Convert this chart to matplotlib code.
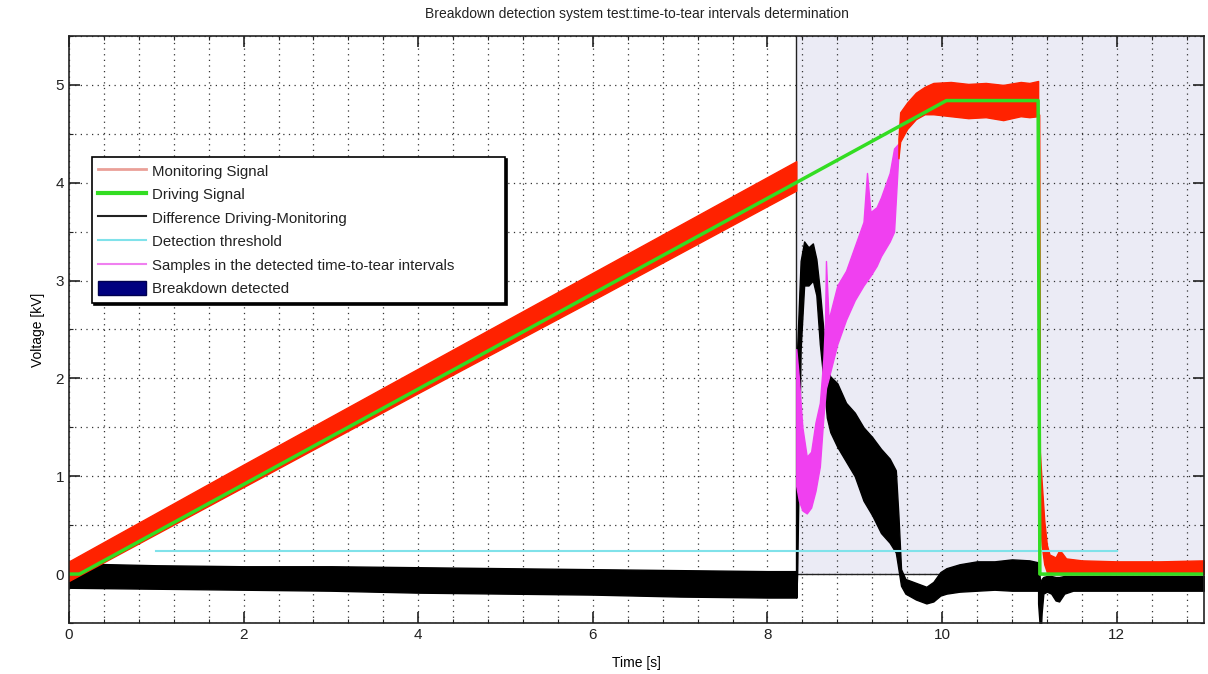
import matplotlib
matplotlib.use('Agg')
import matplotlib.pyplot as plt
from matplotlib.lines import Line2D
from matplotlib.patches import Patch
from matplotlib.ticker import MultipleLocator

# ------------------------------------------------------------------
# values (time in s, voltage in kV)
# noisy traces are kept as upper / lower envelopes
# ------------------------------------------------------------------
drive_t = [0.0, 0.12, 10.05, 11.10, 11.12, 13.0]
drive_v = [0.0, 0.0, 4.84, 4.84, 0.0, 0.0]

# monitoring signal, ramp part
mon_ramp_t = [0.0, 2.0, 4.0, 6.0, 8.33]
mon_ramp_hi = [0.13, 1.12, 2.10, 3.08, 4.22]
mon_ramp_lo = [-0.07, 0.89, 1.85, 2.80, 3.92]
# monitoring signal, plateau part
mon_plat_t = [9.50, 9.52, 9.60, 9.70, 9.80, 9.90, 10.10, 10.30, 10.50, 10.70, 10.90, 11.00, 11.10]
mon_plat_hi = [4.45, 4.72, 4.82, 4.92, 4.98, 5.02, 5.03, 5.01, 5.02, 5.00, 5.03, 5.02, 5.04]
mon_plat_lo = [4.25, 4.42, 4.55, 4.65, 4.70, 4.70, 4.68, 4.66, 4.67, 4.64, 4.68, 4.67, 4.68]
# monitoring signal after the breakdown
mon_tail_t = [11.11, 11.12, 11.14, 11.17, 11.20, 11.23, 11.30, 11.34, 11.37, 11.42, 11.60, 12.0, 12.5, 13.0]
mon_tail_hi = [4.70, 1.25, 0.95, 0.55, 0.30, 0.20, 0.17, 0.24, 0.22, 0.16, 0.14, 0.13, 0.13, 0.14]
mon_tail_lo = [0.00, 0.60, 0.30, 0.10, 0.02, 0.00, 0.00, 0.00, 0.00, 0.00, 0.00, 0.00, 0.00, 0.00]

# difference driving - monitoring
diff_a_t = [0.0, 1.0, 2.0, 3.0, 4.0, 5.0, 6.0, 7.0, 8.0, 8.33]
diff_a_hi = [0.11, 0.09, 0.08, 0.08, 0.07, 0.06, 0.05, 0.04, 0.03, 0.03]
diff_a_lo = [-0.14, -0.15, -0.16, -0.17, -0.19, -0.20, -0.21, -0.23, -0.24, -0.24]
diff_b_t = [8.33, 8.34, 8.38, 8.42, 8.47, 8.52, 8.56, 8.60, 8.64, 8.68, 8.72, 8.80, 8.90,
            9.00, 9.10, 9.20, 9.30, 9.40, 9.47, 9.50, 9.53, 9.58, 9.70, 9.82, 9.90, 9.98,
            10.05, 10.20, 10.40, 10.60, 10.80, 11.00, 11.10]
diff_b_hi = [0.03, 2.30, 3.20, 3.40, 3.34, 3.38, 3.22, 2.90, 2.50, 2.10, 2.02, 1.95, 1.75,
             1.65, 1.50, 1.40, 1.28, 1.18, 1.06, 0.60, 0.05, -0.05, -0.09, -0.13, -0.08, 0.02,
             0.06, 0.10, 0.13, 0.13, 0.15, 0.14, 0.12]
diff_b_lo = [-0.24, 0.00, 2.30, 2.95, 2.95, 3.00, 2.85, 2.35, 2.00, 1.60, 1.45, 1.30, 1.15,
             1.00, 0.75, 0.60, 0.42, 0.32, 0.22, 0.05, -0.12, -0.20, -0.26, -0.30, -0.28, -0.22,
             -0.20, -0.18, -0.17, -0.16, -0.17, -0.17, -0.17]
diff_c_t = [11.10, 11.12, 11.13, 11.14, 11.16, 11.20, 11.25, 11.30, 11.34, 11.40, 11.50, 12.0, 12.5, 13.0]
diff_c_hi = [0.12, -0.05, -0.10, -0.05, -0.03, -0.02, -0.02, -0.03, -0.03, -0.02, -0.02, -0.02, -0.02, -0.02]
diff_c_lo = [-0.30, -0.55, -0.60, -0.40, -0.20, -0.18, -0.20, -0.27, -0.28, -0.20, -0.17, -0.17, -0.17, -0.17]

# monitoring samples inside the detected time-to-tear interval
samp_t = [8.33, 8.36, 8.40, 8.45, 8.50, 8.55, 8.60, 8.64, 8.66, 8.67, 8.70, 8.80, 8.90,
          9.00, 9.10, 9.14, 9.18, 9.25, 9.30, 9.40, 9.45, 9.50]
samp_hi = [2.30, 2.00, 1.50, 1.20, 1.25, 1.55, 1.75, 2.20, 2.60, 3.20, 2.60, 2.95, 3.10,
           3.35, 3.60, 4.10, 3.70, 3.75, 3.85, 4.10, 4.35, 4.40]
samp_lo = [0.90, 0.75, 0.65, 0.62, 0.68, 0.85, 1.10, 1.60, 1.80, 1.90, 2.00, 2.35, 2.60,
           2.80, 2.95, 3.00, 3.05, 3.15, 3.25, 3.40, 3.50, 4.30]

threshold_t = [1.0, 12.0]
threshold_v = [0.24, 0.24]

breakdown_t = [8.33, 13.0]
breakdown_v = [0.0, 5.5]

legend_labels = ['Monitoring Signal', 'Driving Signal', 'Difference Driving-Monitoring',
                 'Detection threshold', 'Samples in the detected time-to-tear intervals',
                 'Breakdown detected']

RED = '#ff2200'
GREEN = '#33dd22'
CYAN = '#80e2ea'
MAGENTA = '#f040f0'
SHADE = '#ebebf5'
NAVY = '#000080'

plt.rcParams['font.family'] = ['Liberation Sans', 'DejaVu Sans']
plt.rcParams['text.color'] = '#222222'
plt.rcParams['xtick.color'] = '#222222'
plt.rcParams['ytick.color'] = '#222222'


# **************************************************************************************************************
# draw one noisy trace as a filled band between its envelopes
# **************************************************************************************************************
def band(ax, t, hi, lo, color, z):
    ax.fill_between(t, lo, hi, facecolor=color, edgecolor=color, linewidth=1.0, zorder=z)


def creating_breakdown_chart():
    fig = plt.figure(figsize=(12.08, 6.74), dpi=100)
    ax = fig.add_axes([0.0571, 0.0757, 0.9396, 0.8709])

    # detected breakdown area
    ax.fill_between(breakdown_t, breakdown_v[0], breakdown_v[1], facecolor=SHADE,
                    edgecolor='none', zorder=0.2)
    ax.plot([breakdown_t[0], breakdown_t[0]], breakdown_v, color='#222222', linewidth=1.0, zorder=0.6)
    ax.plot(breakdown_t, [breakdown_v[0], breakdown_v[0]], color='#222222', linewidth=1.0, zorder=0.6)

    band(ax, diff_a_t, diff_a_hi, diff_a_lo, 'black', 2.0)
    band(ax, diff_b_t, diff_b_hi, diff_b_lo, 'black', 2.0)
    band(ax, diff_c_t, diff_c_hi, diff_c_lo, 'black', 2.0)

    band(ax, mon_ramp_t, mon_ramp_hi, mon_ramp_lo, RED, 2.2)
    band(ax, mon_plat_t, mon_plat_hi, mon_plat_lo, RED, 2.2)
    band(ax, mon_tail_t, mon_tail_hi, mon_tail_lo, RED, 2.2)

    band(ax, samp_t, samp_hi, samp_lo, MAGENTA, 2.1)

    ax.plot(threshold_t, threshold_v, color=CYAN, linewidth=1.5, zorder=2.3)
    ax.plot(drive_t, drive_v, color=GREEN, linewidth=2.5, zorder=2.5)

    ax.set_xlim(0, 13)
    ax.set_ylim(-0.5, 5.5)
    ax.xaxis.set_major_locator(MultipleLocator(2))
    ax.xaxis.set_minor_locator(MultipleLocator(0.4))
    ax.yaxis.set_major_locator(MultipleLocator(1))
    ax.yaxis.set_minor_locator(MultipleLocator(0.5))
    ax.set_axisbelow(True)
    ax.grid(True, which='both', color='#333333', linestyle=(0, (1, 3.5)), linewidth=0.9)
    ax.tick_params(which='both', direction='in', top=True, right=True, labelsize=11)
    ax.tick_params(which='major', length=8, width=1.2)
    ax.tick_params(which='minor', length=3, width=0.8)
    for s in ax.spines.values():
        s.set_linewidth(1.2)
        s.set_color('#222222')

    ax.set_title('Breakdown detection system test:time-to-tear intervals determination',
                 fontsize=10, pad=13)
    ax.set_xlabel('Time [s]', fontsize=10, labelpad=10)
    ax.set_ylabel('Voltage [kV]', fontsize=10, labelpad=8)

    handles = [Line2D([], [], color='#eaa098', linewidth=2.0),
               Line2D([], [], color=GREEN, linewidth=3.0),
               Line2D([], [], color='#222222', linewidth=1.5),
               Line2D([], [], color=CYAN, linewidth=1.5),
               Line2D([], [], color='#f080f0', linewidth=1.5),
               Patch(facecolor=NAVY, edgecolor='#000050')]
    leg = ax.legend(handles, legend_labels, loc='upper left', mode='expand',
                    bbox_to_anchor=(0.0203, 0.0, 0.364, 0.794), borderaxespad=0,
                    fontsize=10.8, handlelength=3.2, handleheight=1.1, handletextpad=0.35,
                    labelspacing=0.55, borderpad=0.42, fancybox=False, framealpha=1.0,
                    edgecolor='black',
                    shadow={'ox': 1.5, 'oy': -1.5, 'color': 'black', 'alpha': 1.0})
    leg.get_frame().set_linewidth(1.2)
    leg.set_zorder(5)

    fig.savefig('out.png', dpi=100, facecolor='white')


if __name__ == '__main__':
    creating_breakdown_chart()
